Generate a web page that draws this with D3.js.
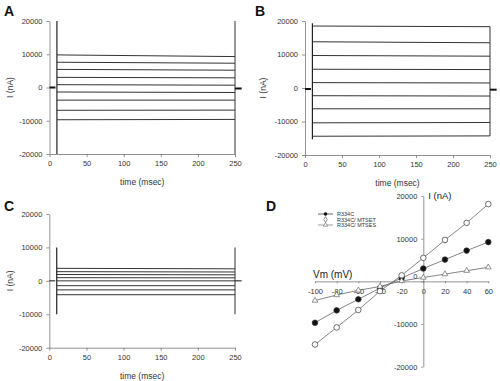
<!DOCTYPE html>
<html><head><meta charset="utf-8">
<script src="https://cdn.jsdelivr.net/npm/d3@7"></script>
<style>
html,body{margin:0;padding:0;background:#fff;}
svg{display:block;font-family:"Liberation Sans",Arial,sans-serif;}
.axis path,.axis line{stroke:#777;stroke-width:0.8;}
.axis text{fill:#333;font-size:7.5px;}
</style></head>
<body>
<svg id="c" width="500" height="381"></svg>
<script>
// ---- data ----
const yTicks = [-20000, -10000, 0, 10000, 20000];
const tTicks = [0, 50, 100, 150, 200, 250];
const pulseOn = 10, pulseOff = 250, tailEnd = 259;

// Panel A: R334C current traces (start / end of the pulse), nA
const aStart = [9800, 7600, 5450, 3050, 850, -1350, -3800, -6850, -9700];
const aEnd   = [9300, 7300, 5200, 2900, 700, -1500, -3800, -6800, -9600];
const aSpikeOn = [-20000, 20000], aSpikeOff = [-20000, 20000];
const aBase = 0, aTail = -300;

// Panel B: R334C / MTSET
const bStart = [18500, 13800, 9700, 5600, 1600, -2300, -6200, -10400, -14400];
const bEnd   = [18300, 13500, 9500, 5500, 1500, -2400, -6200, -10300, -14300];
const bSpikeOn = [-15300, 19300], bSpikeOff = [-14300, 18300];
const bBase = -300, bTail = -500;

// Panel C: R334C / MTSES
const cStart = [3750, 2750, 1900, 950, 0, -1450, -2700, -4150];
const cEnd   = [3600, 2650, 1800, 900, 0, -1450, -2700, -4150];
const cSpikeOn = [-10000, 10000], cSpikeOff = [-10000, 10000];
const cBase = 0, cTail = 0;

// Panel D: I-V relations
const vm = [-100, -80, -60, -40, -20, 0, 20, 40, 60];
const ivR334C = [-9700, -6800, -4200, -1600, 800, 3000, 5100, 7200, 9200];
const ivMTSET = [-14800, -10800, -6700, -2300, 1400, 5500, 9700, 13700, 18100];
const ivMTSES = [-4500, -3200, -2100, -1200, 100, 900, 1700, 2500, 3300];
const legendLabels = ["R334C", "R334C/ MTSET", "R334C/ MTSES"];
const vmTicks = [-100, -80, -60, -40, -20, 0, 20, 40, 60];

const svg = d3.select("#c");
const fmt = d => String(d);

function tracePanel(o) {
  const x = d3.scaleLinear().domain([0, 250]).range(o.xr);
  const y = d3.scaleLinear().domain([-20000, 20000]).range(o.yr);
  const g = svg.append("g");
  g.append("g").attr("class", "axis").attr("transform", `translate(0,${o.yr[0]})`)
    .call(d3.axisBottom(x).tickValues(tTicks).tickFormat(fmt).tickSize(3).tickSizeOuter(0).tickPadding(4));
  g.append("g").attr("class", "axis").attr("transform", `translate(${o.xr[0]},0)`)
    .call(d3.axisLeft(y).tickValues(yTicks).tickFormat(fmt).tickSize(3).tickSizeOuter(0).tickPadding(4));
  const line = d3.line().x(d => x(d[0])).y(d => y(d[1]));
  const tr = g.append("g").attr("fill", "none");
  o.start.forEach((s, i) => {
    tr.append("path").attr("d", line([[pulseOn, s], [pulseOff, o.end[i]]]))
      .attr("stroke", "#333").attr("stroke-width", 1);
  });
  tr.append("path").attr("d", line([[pulseOn, o.spikeOn[0]], [pulseOn, o.spikeOn[1]]]))
    .attr("stroke", "#222").attr("stroke-width", 1.2);
  tr.append("path").attr("d", line([[pulseOff, o.spikeOff[0]], [pulseOff, o.spikeOff[1]]]))
    .attr("stroke", "#333").attr("stroke-width", 1);
  tr.append("path").attr("d", line([[0, o.base], [pulseOn - 2, o.base]]))
    .attr("stroke", "#111").attr("stroke-width", o.thick);
  tr.append("path").attr("d", line([[pulseOff, o.tail], [tailEnd, o.tail]]))
    .attr("stroke", "#111").attr("stroke-width", o.thick);
  // titles
  g.append("text").attr("x", (o.xr[0] + o.xr[1]) / 2).attr("y", o.yr[0] + 31)
    .attr("text-anchor", "middle").attr("font-size", 8.5).attr("fill", "#333").text("time (msec)");
  g.append("text").attr("transform", `translate(${o.ylx},${(o.yr[0] + o.yr[1]) / 2}) rotate(-90)`)
    .attr("text-anchor", "middle").attr("font-size", 8.5).attr("fill", "#333").text("I (nA)");
  svg.append("text").attr("x", o.lx).attr("y", o.ly).attr("font-size", 14).attr("font-weight", "bold")
    .attr("fill", "#111").text(o.letter);
}

tracePanel({xr: [49.5, 235], yr: [154, 21], start: aStart, end: aEnd, spikeOn: aSpikeOn, spikeOff: aSpikeOff,
  base: aBase, tail: aTail, thick: 2, ylx: 13, lx: 4, ly: 16, letter: "A"});
tracePanel({xr: [305, 490], yr: [155, 21], start: bStart, end: bEnd, spikeOn: bSpikeOn, spikeOff: bSpikeOff,
  base: bBase, tail: bTail, thick: 2, ylx: 266, lx: 255, ly: 16, letter: "B"});
tracePanel({xr: [49.3, 235], yr: [347.7, 214], start: cStart, end: cEnd, spikeOn: cSpikeOn, spikeOff: cSpikeOff,
  base: cBase, tail: cTail, thick: 1, ylx: 13, lx: 4, ly: 211, letter: "C"});

// ---- Panel D ----
(function () {
  const x = d3.scaleLinear().domain([-100, 60]).range([315, 488.3]);
  const y = d3.scaleLinear().domain([-20000, 20000]).range([366.7, 196]);
  const g = svg.append("g");
  const xa = g.append("g").attr("class", "axis").attr("transform", `translate(0,${y(0)})`)
    .call(d3.axisBottom(x).tickValues(vmTicks).tickFormat(d => d === 0 ? "0" : String(d)).tickSize(2).tickSizeOuter(0).tickPadding(5));
  xa.selectAll("text").attr("font-size", 7.5);
  const ya = g.append("g").attr("class", "axis").attr("transform", `translate(${x(0)},0)`)
    .call(d3.axisLeft(y).tickValues(yTicks).tickFormat(fmt).tickSize(2).tickSizeOuter(0).tickPadding(4));
  ya.selectAll("text").attr("font-size", 5.5);
  ya.selectAll(".tick").filter(d => d === 0).select("text").attr("dy", "-0.4em");
  g.append("text").attr("x", x(0) + 5).attr("y", 199).attr("font-size", 9.5).attr("fill", "#222").text("I (nA)");
  g.append("text").attr("x", 313).attr("y", 278).attr("font-size", 10).attr("fill", "#222").text("Vm (mV)");

  const line = d3.line().x(d => x(d[0])).y(d => y(d[1]));
  const series = [
    {v: ivR334C, kind: "circleF"},
    {v: ivMTSET, kind: "circleO"},
    {v: ivMTSES, kind: "tri"}
  ];
  const tri = d3.symbol().type(d3.symbolTriangle).size(14);
  series.forEach(s => {
    const pts = vm.map((v, i) => [v, s.v[i]]);
    g.append("path").attr("d", line(pts)).attr("fill", "none").attr("stroke", "#666").attr("stroke-width", 0.8);
    pts.forEach(p => {
      if (s.kind === "tri") {
        g.append("path").attr("d", tri()).attr("transform", `translate(${x(p[0])},${y(p[1])})`)
          .attr("fill", "#fff").attr("stroke", "#666").attr("stroke-width", 0.7);
      } else {
        g.append("circle").attr("cx", x(p[0])).attr("cy", y(p[1])).attr("r", 2.8)
          .attr("fill", s.kind === "circleF" ? "#111" : "#fff").attr("stroke", "#333").attr("stroke-width", 0.7);
      }
    });
  });
  // legend
  const lg = g.append("g");
  legendLabels.forEach((t, i) => {
    const yy = 214 + i * 5.5;
    if (i !== 1) lg.append("line").attr("x1", 318).attr("x2", 333).attr("y1", yy).attr("y2", yy)
      .attr("stroke", i === 0 ? "#222" : "#777").attr("stroke-width", 0.7);
    if (i === 0) lg.append("circle").attr("cx", 325.5).attr("cy", yy).attr("r", 1.8).attr("fill", "#111");
    if (i === 1) lg.append("path").attr("d", d3.symbol().type(d3.symbolDiamond).size(10)())
      .attr("transform", `translate(325.5,${yy})`).attr("fill", "#fff").attr("stroke", "#555").attr("stroke-width", 0.6);
    if (i === 2) lg.append("path").attr("d", d3.symbol().type(d3.symbolTriangle).size(8)())
      .attr("transform", `translate(325.5,${yy})`).attr("fill", "#fff").attr("stroke", "#666").attr("stroke-width", 0.6);
    lg.append("text").attr("x", 337).attr("y", yy + 2).attr("font-size", 5.5).attr("fill", "#333").text(t);
  });
  svg.append("text").attr("x", 266).attr("y", 211).attr("font-size", 14).attr("font-weight", "bold")
    .attr("fill", "#111").text("D");
})();
</script>
</body></html>
